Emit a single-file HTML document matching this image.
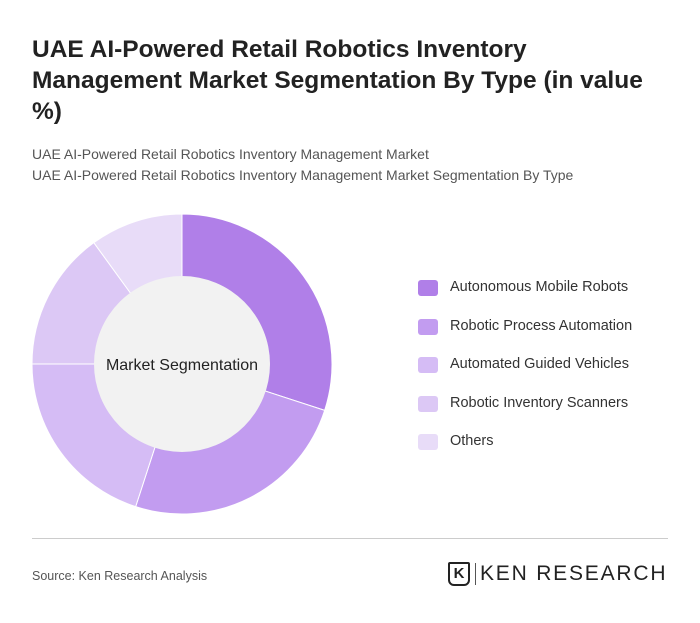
<!DOCTYPE html>
<html><head><meta charset="utf-8">
<style>
body{margin:0;width:700px;height:623px;background:#fff;font-family:"Liberation Sans",sans-serif;position:relative;overflow:hidden}
.t{position:absolute;left:32px;top:34px;width:660px;font-size:24.5px;font-weight:bold;color:#222;line-height:31px;white-space:nowrap}
.sub{position:absolute;left:32px;font-size:14px;color:#555}
.leg{position:absolute;left:418px;font-size:14.5px;color:#333}
.leg span{position:absolute;left:0;top:1px;width:20px;height:16px;border-radius:3px}
.leg b{font-weight:normal;position:absolute;left:32px;top:0;white-space:nowrap}
</style></head><body>
<div class="t">UAE AI-Powered Retail Robotics Inventory<br>Management Market Segmentation By Type (in value<br>%)</div>
<div class="sub" style="top:146px">UAE AI-Powered Retail Robotics Inventory Management Market</div>
<div class="sub" style="top:167px">UAE AI-Powered Retail Robotics Inventory Management Market Segmentation By Type</div>
<svg id="pie" width="700" height="623" style="position:absolute;left:0;top:0"></svg>
<div id="legend"></div>
<div style="position:absolute;left:32px;top:538px;width:636px;height:1px;background:#ccc"></div>
<div style="position:absolute;left:32px;top:569px;font-size:12.5px;color:#555">Source: Ken Research Analysis</div>
<div style="position:absolute;left:448px;top:562px;width:22px;height:24px;border:2px solid #222;border-radius:2px 2px 6px 6px;box-sizing:border-box;font-weight:bold;font-size:15px;text-align:center;line-height:20px;color:#222">K</div>
<div style="position:absolute;left:475px;top:563px;width:1px;height:22px;background:#555"></div>
<div style="position:absolute;left:480px;top:562px;font-size:21px;letter-spacing:1.8px;color:#222">KEN RESEARCH</div>
<script>
const categories=["Autonomous Mobile Robots","Robotic Process Automation","Automated Guided Vehicles","Robotic Inventory Scanners","Others"];
const values=[30,25,20,15,10];
const colors=["#b07fe8","#c29cf0","#d5bcf5","#dcc8f5","#e8dcf8"];
const svg=document.getElementById('pie');const NS="http://www.w3.org/2000/svg";
const cx=182,cy=364,R=150,r=88;
const total=values.reduce((a,b)=>a+b,0);
let acc=0;
function pt(a,rad){return [cx+rad*Math.sin(a),cy-rad*Math.cos(a)];}
values.forEach((v,i)=>{
 const a0=acc/total*2*Math.PI;acc+=v;const a1=acc/total*2*Math.PI;
 const [x0,y0]=pt(a0,R),[x1,y1]=pt(a1,R);const large=(a1-a0)>Math.PI?1:0;
 const p=document.createElementNS(NS,'path');
 p.setAttribute('d',`M${cx},${cy}L${x0},${y0}A${R},${R} 0 ${large} 1 ${x1},${y1}Z`);
 p.setAttribute('fill',colors[i]);p.setAttribute('stroke','#fff');p.setAttribute('stroke-width','1');
 
 
 svg.appendChild(p);
});
const c=document.createElementNS(NS,'circle');c.setAttribute('cx',cx);c.setAttribute('cy',cy);c.setAttribute('r',r);c.setAttribute('fill','#f2f2f2');


svg.appendChild(c);
const t=document.createElementNS(NS,'text');t.setAttribute('x',cx);t.setAttribute('y',cy+6);t.setAttribute('text-anchor','middle');t.setAttribute('font-size','16');t.setAttribute('fill','#222');t.setAttribute('font-family','Liberation Sans, sans-serif');t.textContent='Market Segmentation';


svg.appendChild(t);
const lg=document.getElementById('legend');
categories.forEach((n,i)=>{
 const d=document.createElement('div');d.className='leg';d.style.top=(279+i*38.5)+'px';
 d.innerHTML=`<span style="background:${colors[i]}"></span><b>${n}</b>`;
 
 
 lg.appendChild(d);
});
</script>
</body></html>
